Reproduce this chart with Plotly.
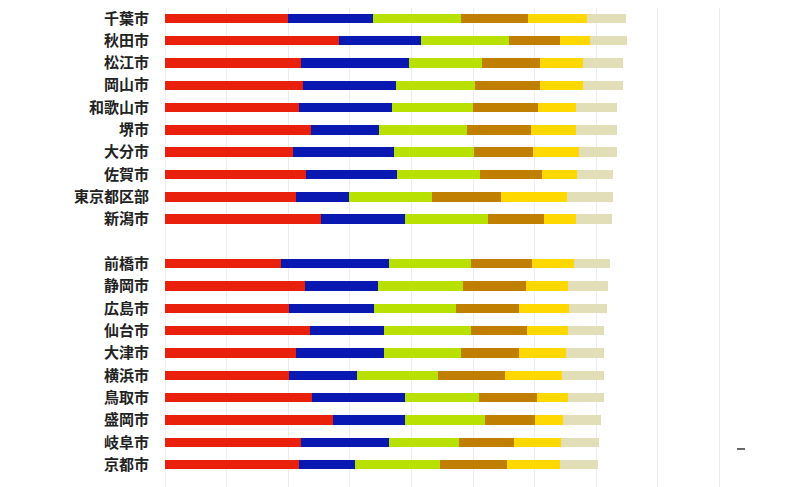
import plotly.graph_objects as go

# 都市名（上から順に）
cities = ["千葉市", "秋田市", "松江市", "岡山市", "和歌山市", "堺市", "大分市", "佐賀市", "東京都区部", "新潟市",
          "前橋市", "静岡市", "広島市", "仙台市", "大津市", "横浜市", "鳥取市", "盛岡市", "岐阜市", "京都市"]

# 各区分の値
seg1 = [20.0, 28.2, 22.0, 22.4, 21.8, 23.7, 20.7, 22.9, 21.3, 25.4,
        18.8, 22.8, 20.1, 23.6, 21.3, 20.1, 23.9, 27.2, 22.0, 21.8]
seg2 = [13.8, 13.3, 17.6, 15.1, 15.0, 11.0, 16.5, 14.8, 8.5, 13.6,
        17.6, 11.8, 13.9, 12.0, 14.3, 11.0, 15.0, 11.8, 14.3, 9.1]
seg3 = [14.3, 14.4, 11.8, 12.8, 13.2, 14.3, 12.9, 13.4, 13.6, 13.5,
        13.3, 13.8, 13.2, 14.1, 12.5, 13.2, 12.1, 13.0, 11.4, 13.8]
seg4 = [10.9, 8.2, 9.5, 10.6, 10.6, 10.4, 9.7, 10.1, 11.2, 9.1,
        9.9, 10.2, 10.3, 9.0, 9.4, 10.9, 9.4, 8.0, 8.9, 10.8]
seg5 = [9.5, 4.9, 7.0, 6.9, 6.1, 7.3, 7.4, 5.7, 10.7, 5.2,
        6.8, 6.8, 8.1, 6.7, 7.6, 9.3, 5.0, 4.6, 7.7, 8.7]
seg6 = [6.4, 6.0, 6.5, 6.6, 6.7, 6.6, 6.1, 5.9, 7.5, 5.8,
        5.9, 6.5, 6.1, 5.9, 6.2, 6.8, 5.9, 6.2, 6.1, 6.1]

colors = ["#e8200c", "#0818b0", "#b8e000", "#c07f00", "#ffd800", "#e2dfb8"]

# 2つのグループの間に空行を入れる
order = cities[:10] + [" "] + cities[10:]

fig = go.Figure()
for vals, col in zip([seg1, seg2, seg3, seg4, seg5, seg6], colors):
    fig.add_trace(go.Bar(
        x=vals, y=cities, orientation="h",
        marker=dict(color=col, line=dict(width=0)),
        width=0.42, showlegend=False,
    ))

fig.update_layout(
    barmode="stack",
    width=800, height=487,
    margin=dict(l=157, r=27, t=0, b=0),
    plot_bgcolor="white",
    paper_bgcolor="white",
    font=dict(family="Noto Sans CJK JP", color="#222222"),
    shapes=[dict(type="line", xref="paper", yref="paper",
                 x0=0.9286, x1=0.9416, y0=0.0945, y1=0.0945,
                 line=dict(color="#333333", width=1.5))],
)
fig.update_xaxes(
    range=[0, 100], dtick=10, showticklabels=False,
    showgrid=True, gridcolor="#ededed", gridwidth=1,
    zeroline=True, zerolinecolor="#ededed", zerolinewidth=1,
    fixedrange=True, automargin=False,
)
fig.update_yaxes(
    type="category", categoryorder="array", categoryarray=order,
    range=[21.36, -0.46],
    tickfont=dict(size=15, color="#222222", family="Noto Sans CJK JP", weight="bold"),
    ticklabelstandoff=15, showgrid=False, zeroline=False, automargin=False,
)

fig.write_html("out.html")
